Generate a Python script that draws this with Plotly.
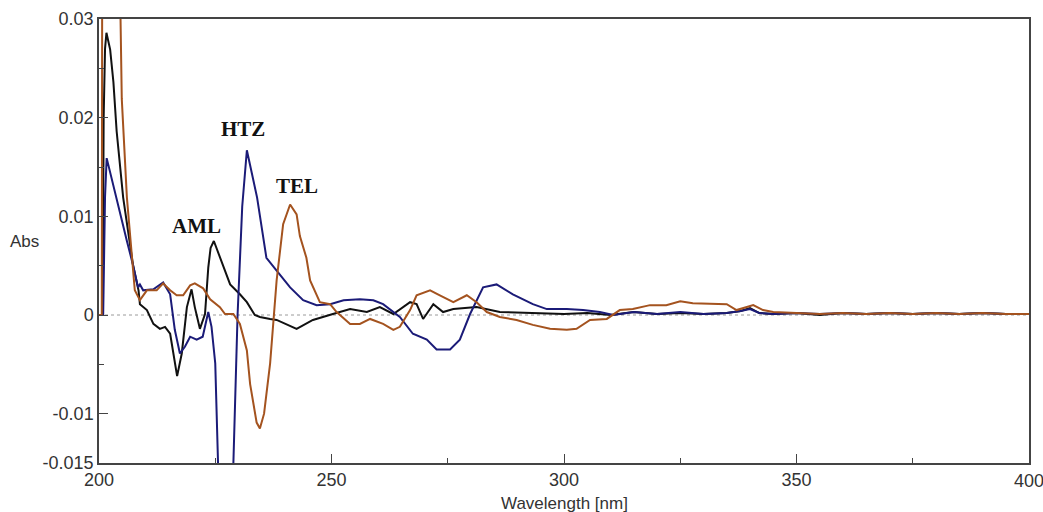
import plotly.graph_objects as go

# ---------------- data ----------------
wl_aml = [200, 200.8, 201.0, 201.3, 201.6, 202.4, 203.1, 203.8, 205.2, 206.3, 207.3, 208.5, 208.8,
          210.3, 211.7, 213.1, 214.2, 215.3, 216.0, 216.8, 217.8, 218.9, 219.9, 220.6, 221.7, 222.8,
          223.5, 224.0, 224.7, 226.0, 228.2, 230.3, 231.8, 233.5, 234.6, 236.8, 238.2, 242.5, 246.0,
          250.3, 254.0, 257.6, 260.4, 263.3, 266.9, 268.3, 269.7, 271.9, 274.0, 276.2, 281.2, 286.2,
          293.3, 300, 305, 310, 315, 320, 325, 330, 335, 338, 340, 342, 345, 350, 355, 360, 365, 370,
          375, 380, 385, 390, 395, 400]
abs_aml = [0, 0, 0.020, 0.027, 0.0286, 0.0269, 0.0236, 0.0186, 0.0119, 0.0085, 0.0051, 0.0025, 0.0011,
           0.0005, -0.0009, -0.0014, -0.0012, -0.0019, -0.0039, -0.0062, -0.0039, 0.0008, 0.0026, 0.0008,
           -0.0014, 0.0001, 0.0048, 0.0068, 0.0075, 0.0058, 0.0031, 0.0021, 0.0013, 0.0, -0.0002,
           -0.0004, -0.0005, -0.0014, -0.0005, 0.0001, 0.0006, 0.0003, 0.0008, 0.0001, 0.0013, 0.0011,
           -0.0004, 0.0011, 0.0003, 0.0006, 0.0008, 0.0003, 0.0002, 0.0001, 0.0002, 0.0, 0.0003, 0.0001,
           0.0002, 0.0001, 0.0002, 0.0004, 0.0007, 0.0002, 0.0001, 0.0002, 0.0, 0.0002, 0.0001, 0.0002,
           0.0001, 0.0002, 0.0001, 0.0002, 0.0001, 0.0001]

wl_htz = [200, 200.9, 201.1, 201.3, 201.65, 203.0, 204.5, 206.0, 207.3, 208.4, 208.8, 209.5, 211.7,
          213.8, 215.3, 216.3, 217.4, 218.5, 219.6, 221.0, 222.3, 223.5, 224.2, 225.0, 225.6, 227.0,
          228.9, 229.8, 230.8, 231.8, 234.0, 236.0, 238.2, 241.1, 243.9, 246.8, 249.7, 252.6, 256.1,
          259.0, 261.1, 264.7, 267.5, 270.5, 272.6, 275.5, 277.6, 279.8, 282.6, 285.5, 289.0, 293.3,
          296.3, 300.6, 304.1, 307.7, 310.6, 315, 320, 325, 330, 335, 338, 340, 342, 345, 350, 355,
          360, 365, 370, 375, 380, 385, 390, 395, 400]
abs_htz = [0, 0, 0.006, 0.012, 0.0159, 0.0132, 0.0102, 0.0075, 0.0051, 0.0028, 0.0031, 0.0025, 0.0026,
           0.0033, 0.0021, -0.0015, -0.0039, -0.0032, -0.0022, -0.0025, -0.0022, 0.0003, -0.0012,
           -0.0049, -0.015, -0.022, -0.015, 0.0, 0.0110, 0.0167, 0.0119, 0.0058, 0.0045, 0.0028,
           0.0015, 0.0010, 0.0011, 0.0015, 0.0016, 0.0015, 0.0011, -0.0002, -0.0019, -0.0025, -0.0035,
           -0.0035, -0.0025, 0.0001, 0.0028, 0.0031, 0.0021, 0.0011, 0.0006, 0.0006, 0.0005, 0.0003,
           0.0, 0.0003, 0.0001, 0.0003, 0.0001, 0.0002, 0.0004, 0.0006, 0.0002, 0.0001, 0.0002, 0.0001,
           0.0002, 0.0001, 0.0002, 0.0001, 0.0002, 0.0001, 0.0002, 0.0001, 0.0001]

wl_tel = [200, 200.6, 200.7, 202.5, 204.3, 204.9, 206.0, 207.0, 207.7, 208.8, 210.3, 212.4, 213.8,
          215.3, 216.7, 218.1, 219.6, 220.6, 222.4, 223.9, 226.0, 227.1, 228.9, 230.3, 231.8, 232.5,
          233.9, 234.6, 235.5, 236.8, 238.2, 239.6, 241.1, 242.5, 243.2, 244.6, 245.4, 247.5, 249.7,
          251.1, 254.0, 256.1, 258.3, 261.1, 263.3, 264.7, 266.9, 268.3, 271.2, 273.3, 276.2, 279.1,
          281.2, 283.4, 286.2, 289.8, 293.3, 297.0, 300.6, 302.7, 305.6, 309.2, 312.0, 314.8, 318.5,
          322.0, 325.0, 327.7, 332.0, 335.0, 337.1, 340.7, 342.8, 345, 350, 355, 360, 365, 370, 375,
          380, 385, 390, 395, 400]
abs_tel = [0, 0, 0.04, 0.06, 0.04, 0.0219, 0.0119, 0.0058, 0.0025, 0.0015, 0.0025, 0.0025, 0.0032,
           0.0025, 0.0020, 0.0020, 0.0030, 0.0032, 0.0027, 0.0016, 0.0008, 0.0001, 0.0001, -0.0009,
           -0.0036, -0.0070, -0.0109, -0.0115, -0.0100, -0.0049, 0.0035, 0.0092, 0.0112, 0.0102,
           0.0080, 0.0058, 0.0035, 0.0013, 0.0011, 0.0003, -0.0009, -0.0009, -0.0004, -0.0009, -0.0015,
           -0.0012, 0.0005, 0.0020, 0.0025, 0.0020, 0.0013, 0.0020, 0.0013, 0.0003, -0.0002, -0.0005,
           -0.0010, -0.0014, -0.0015, -0.0014, -0.0005, -0.0004, 0.0005, 0.0006, 0.0010, 0.0010,
           0.0014, 0.0012, 0.0011, 0.0011, 0.0005, 0.0010, 0.0005, 0.0003, 0.0002, 0.0001, 0.0002,
           0.0001, 0.0002, 0.0001, 0.0002, 0.0001, 0.0002, 0.0001, 0.0001]

series_names = ["AML", "HTZ", "TEL"]
label_x = [221.0, 231.0, 242.5]
label_y = [0.0090, 0.0189, 0.0131]

x_ticks = [200, 250, 300, 350, 400]
y_ticks = [-0.015, -0.01, 0, 0.01, 0.02, 0.03]
y_tick_text = ["-0.015", "-0.01", "0", "0.01", "0.02", "0.03"]

# ---------------- figure ----------------
colors = {"AML": "#111111", "HTZ": "#1b1b78", "TEL": "#a4531f"}
tick_font = dict(family="Liberation Sans", size=18, color="#333333")
fig = go.Figure()
for name, xs, ys in [("AML", wl_aml, abs_aml), ("HTZ", wl_htz, abs_htz), ("TEL", wl_tel, abs_tel)]:
    fig.add_trace(go.Scatter(x=xs, y=ys, mode="lines", name=name,
                             line=dict(color=colors[name], width=2), showlegend=False))

fig.add_shape(type="line", xref="x", yref="y", x0=200, x1=400, y0=0, y1=0,
              line=dict(color="#9a9a9a", width=1, dash="dot"), layer="below")

for name, lx, ly in zip(series_names, label_x, label_y):
    fig.add_annotation(x=lx, y=ly, xref="x", yref="y", text="<b>" + name + "</b>", showarrow=False,
                       font=dict(family="Liberation Serif", size=21, color="#111111"))

fig.add_annotation(x=0.5, y=-0.092, xref="paper", yref="paper", yanchor="middle",
                   text="Wavelength [nm]", showarrow=False,
                   font=dict(family="Liberation Sans", size=17, color="#333333"))
fig.add_annotation(x=-0.08, y=0.5, xref="paper", yref="paper", xanchor="center",
                   text="Abs", showarrow=False,
                   font=dict(family="Liberation Sans", size=17, color="#333333"))

axis_common = dict(showgrid=False, zeroline=False, showline=True, linecolor="#444444",
                   linewidth=1.5, mirror=True, ticks="inside", tickcolor="#444444",
                   ticklen=9, tickwidth=1, automargin=False, tickfont=tick_font)
fig.update_xaxes(range=[200, 400], tickvals=x_ticks[:-1],
                 minor=dict(dtick=25, tick0=200, ticks="inside", ticklen=5, tickcolor="#444444"),
                 **axis_common)
fig.update_yaxes(range=[-0.015, 0.03], tickvals=y_ticks, ticktext=y_tick_text,
                 minor=dict(dtick=0.005, tick0=0, ticks="inside", ticklen=5, tickcolor="#444444"),
                 **axis_common)

# last x tick label (at the right edge of the plot), drawn as text so it is not dropped
fig.add_annotation(x=x_ticks[-1], y=-0.04, xref="x", yref="paper", yanchor="middle",
                   xanchor="center", text=str(x_ticks[-1]), showarrow=False, font=tick_font)

fig.update_layout(width=1043, height=512, margin=dict(l=99, r=14, t=19, b=49),
                  paper_bgcolor="white", plot_bgcolor="white")
fig.write_html("out.html", config={"displayModeBar": False},
               post_script="document.body.style.margin='0';document.body.style.overflow='hidden';")
